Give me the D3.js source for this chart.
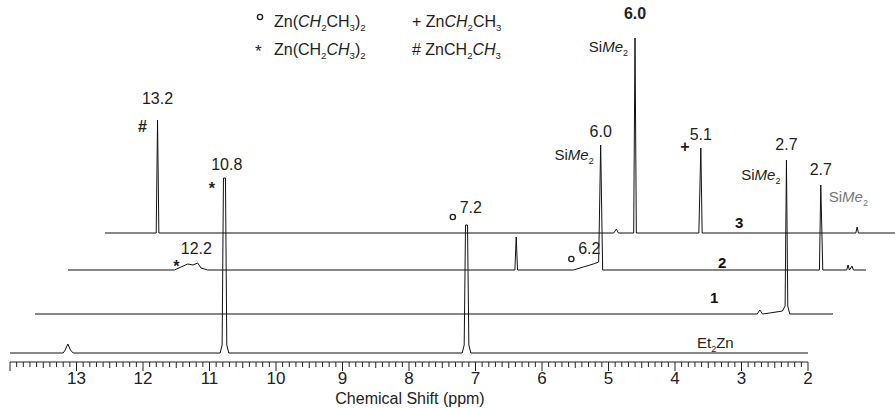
<!DOCTYPE html>
<html>
  <head>
    <meta charset="utf-8" />
    <style>
      body {
        margin: 0;
        background: #fff;
        font-family: "Liberation Sans", Arial, sans-serif;
      }
      svg {
        display: block;
      }
      .trace {
        fill: none;
        stroke: #111;
        stroke-width: 1;
      }
      .tick-label {
        font-size: 17px;
        fill: #222;
      }
      .peak-label {
        font-size: 16px;
        fill: #222;
      }
    </style>
  </head>
  <body>
    <svg width="895" height="408"></svg>

    <script src="https://d3js.org/d3.v7.min.js"></script>
    <script>
      // spectra: [ppm, intensity]
      let et2zn = [
        [14.0, 0], [13.2, 0], [13.17, 3], [13.13, 9], [13.09, 3], [13.05, 0],
        [10.84, 0], [10.81, 8], [10.79, 175], [10.76, 175], [10.74, 8], [10.71, 0],
        [7.2, 0], [7.17, 8], [7.15, 128], [7.12, 128], [7.1, 8], [7.07, 0],
        [2.0, 0],
      ];
      let spec1 = [
        [14.0, 0], [3.14, 0], [3.1, 4], [3.06, 0], [2.95, 1], [2.76, 3],
        [2.72, 8], [2.7, 154], [2.68, 8], [2.65, 0], [2.0, 0],
      ];
      let spec2 = [
        [14.0, 0], [12.4, 0], [12.3, 3], [12.2, 6], [12.12, 5], [12.05, 7],
        [12.0, 2], [11.9, 0], [7.28, 0], [7.26, 33], [7.24, 0], [6.4, 0],
        [6.25, 3], [6.1, 6], [6.02, 8], [5.99, 125], [5.96, 0], [2.7, 0],
        [2.68, 85], [2.65, 0], [2.29, 0], [2.27, 5], [2.25, 0], [2.21, 4],
        [2.19, 0], [2.0, 0],
      ];
      let spec3 = [
        [14.0, 0], [13.23, 0], [13.21, 113], [13.19, 0], [6.35, 0], [6.31, 4],
        [6.28, 0], [6.05, 0], [6.03, 195], [6.01, 0], [5.07, 0], [5.04, 85],
        [5.02, 0], [2.71, 0], [2.69, 6], [2.67, 0], [2.0, 0],
      ];

      let traceNames = ["Et2Zn", "1", "2", "3"];
      let traceData = [et2zn, spec1, spec2, spec3];

      let tickValues = [13, 12, 11, 10, 9, 8, 7, 6, 5, 4, 3, 2];

      let svg = d3.select("svg");

      let x = d3.scaleLinear().domain([14.0, 2.0]).range([10, 808]);
      let y = d3.scaleLinear().domain([0, 200]).range([0, -200]);

      // stacked, skewed offsets of each trace
      let offsets = [
        { dx: 0, base: 353 },
        { dx: 25, base: 314 },
        { dx: 58, base: 270 },
        { dx: 95, base: 233 },
      ];

      let line = d3
        .line()
        .x((d) => x(d[0]))
        .y((d) => y(d[1]));

      let traces = svg
        .selectAll(".tr")
        .data(traceData)
        .join("g")
        .attr("class", "tr")
        .attr("transform", (d, i) => `translate(${offsets[i].dx}, ${offsets[i].base})`);

      traces.append("path").attr("class", "trace").attr("d", line);

      // axis
      let axisY = 362;
      let axis = svg.append("g").attr("transform", `translate(0, ${axisY})`);
      let minor = d3.range(20, 141).map((d) => d / 10);
      axis
        .selectAll("line.minor")
        .data(minor)
        .join("line")
        .attr("x1", (d) => x(d))
        .attr("x2", (d) => x(d))
        .attr("y1", 0)
        .attr("y2", (d) => (Math.abs(d - Math.round(d)) < 0.01 ? 9 : Math.abs(d * 2 - Math.round(d * 2)) < 0.01 ? 6 : 5))
        .attr("stroke", "#222")
        .attr("stroke-width", 1);
      axis
        .append("line")
        .attr("x1", x(14))
        .attr("x2", x(2))
        .attr("y1", 0)
        .attr("y2", 0)
        .attr("stroke", "#222");
      axis
        .selectAll("text")
        .data(tickValues)
        .join("text")
        .attr("class", "tick-label")
        .attr("x", (d) => x(d))
        .attr("y", 22)
        .attr("text-anchor", "middle")
        .text((d) => d);

      svg
        .append("text")
        .attr("x", 410)
        .attr("y", 404)
        .attr("text-anchor", "middle")
        .attr("font-size", 16)
        .attr("fill", "#222")
        .text("Chemical Shift (ppm)");

      // helpers for text with sub / italic parts
      function rich(parent, px, py, parts, opts = {}) {
        let t = parent
          .append("text")
          .attr("x", px)
          .attr("y", py)
          .attr("font-size", opts.size || 15)
          .attr("fill", opts.fill || "#222")
          .attr("text-anchor", opts.anchor || "start");
        let sub = false;
        for (let p of parts) {
          let s = t.append("tspan").text(p.t);
          if (p.i) s.attr("font-style", "italic");
          if (p.sub && !sub) {
            s.attr("dy", 4).attr("font-size", (opts.size || 15) * 0.6);
            sub = true;
          } else if (p.sub) {
            s.attr("font-size", (opts.size || 15) * 0.6);
          } else if (sub) {
            s.attr("dy", -4);
            sub = false;
          }
        }
        return t;
      }

      let siMe = [{ t: "Si" }, { t: "Me", i: true }, { t: "2", sub: true }];

      function px(ti, ppm) {
        return x(ppm) + offsets[ti].dx;
      }
      function py(ti, h) {
        return offsets[ti].base + y(h);
      }

      // small ring marker used for Zn(CH2CH3)2
      function ring(xx, yy) {
        svg
          .append("circle")
          .attr("cx", xx)
          .attr("cy", yy)
          .attr("r", 2.6)
          .attr("fill", "none")
          .attr("stroke", "#222")
          .attr("stroke-width", 1.4);
      }

      // peak labels
      let g = svg.append("g");
      let num = (t, xx, yy, anchor = "middle", bold = false) =>
        g
          .append("text")
          .attr("class", "peak-label")
          .attr("x", xx)
          .attr("y", yy)
          .attr("text-anchor", anchor)
          .attr("font-weight", bold ? "bold" : null)
          .text(t);

      num("13.2", px(3, 13.21), py(3, 113) - 16);
      num("#", px(3, 13.21) - 15, py(3, 113) + 12, "middle", true).attr("font-size", 15);
      num("10.8", px(0, 10.77) + 2, py(0, 175) - 8);
      num("*", px(0, 10.77) - 13, py(0, 175) + 16, "middle", true).attr("font-size", 18);
      num("7.2", px(0, 7.13) + 4, py(0, 128) - 12);
      ring(px(0, 7.13) - 14, py(0, 128) - 8);
      num("12.2", px(2, 12.1) + 2, py(2, 0) - 16);
      num("*", px(2, 12.1) - 18, py(2, 0) + 2, "middle", true).attr("font-size", 18);
      num("6.2", px(2, 6.1) - 4, py(2, 0) - 16);
      ring(px(2, 6.1) - 22, py(2, 0) - 11);
      num("6.0", px(2, 5.99), py(2, 125) - 8);
      rich(svg, px(2, 5.99) - 7, py(2, 125) + 15, siMe, { anchor: "end" });
      num("6.0", px(3, 6.03), py(3, 195) - 19, "middle", true);
      rich(svg, px(3, 6.03) - 7, py(3, 195) + 14, siMe, { anchor: "end" });
      num("5.1", px(3, 5.04), py(3, 85) - 8);
      num("+", px(3, 5.04) - 16, py(3, 85) + 4, "middle", true);
      num("2.7", px(1, 2.7), py(1, 154) - 10);
      rich(svg, px(1, 2.7) - 6, py(1, 154) + 20, siMe, { anchor: "end" });
      num("2.7", px(2, 2.68), py(2, 85) - 10);
      rich(svg, px(2, 2.68) + 8, py(2, 85) + 17, siMe, { fill: "#777" });

      // trace names
      let nameX = [697, 710, 718, 735];
      rich(svg, nameX[0], offsets[0].base - 5, [{ t: "Et" }, { t: "2", sub: true }, { t: "Zn" }], { size: 15 });
      for (let i = 1; i < 4; i++) {
        svg
          .append("text")
          .attr("x", nameX[i])
          .attr("y", offsets[i].base - (i === 3 ? 5 : i === 2 ? 2 : 11))
          .attr("font-size", 15)
          .attr("font-weight", "bold")
          .attr("fill", "#111")
          .text(traceNames[i]);
      }

      // legend
      let lg = svg.append("g");
      let ls = { size: 16 };
      ring(260, 17);
      rich(lg, 274, 27, [
        { t: "Zn(" }, { t: "C", i: true }, { t: "H", i: true }, { t: "2", sub: true },
        { t: "CH" }, { t: "3", sub: true }, { t: ")" }, { t: "2", sub: true },
      ], ls);
      lg.append("text").attr("x", 255).attr("y", 57).attr("font-size", 17).attr("fill", "#222").text("*");
      rich(lg, 274, 55, [
        { t: "Zn(CH" }, { t: "2", sub: true }, { t: "CH", i: true }, { t: "3", sub: true },
        { t: ")" }, { t: "2", sub: true },
      ], ls);
      rich(lg, 412, 27, [
        { t: "+ Zn" }, { t: "CH", i: true }, { t: "2", sub: true }, { t: "CH" }, { t: "3", sub: true },
      ], ls);
      rich(lg, 412, 55, [
        { t: "# ZnCH" }, { t: "2", sub: true }, { t: "CH", i: true }, { t: "3", sub: true },
      ], ls);
    </script>
  </body>
</html>
